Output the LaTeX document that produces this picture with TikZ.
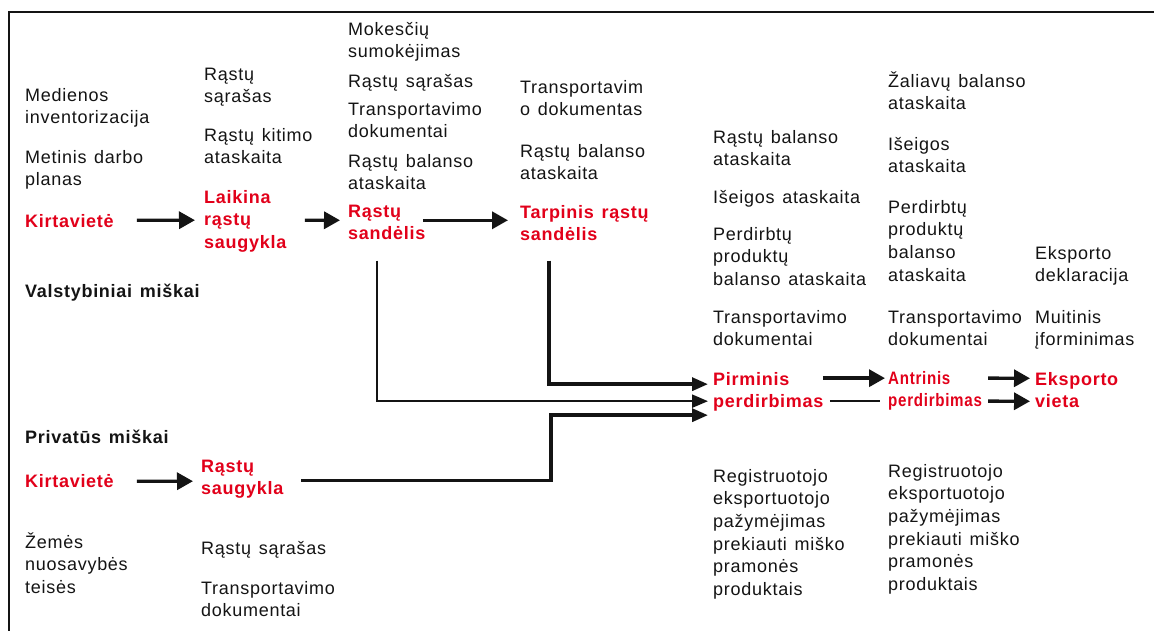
\documentclass[tikz,border=0pt]{standalone}
\usepackage{fontspec}
\setmainfont{Liberation Sans}[LetterSpace=4,WordSpace=1.35]
\newfontfamily\condfont{Liberation Sans}[FakeStretch=0.84,LetterSpace=4]
\usetikzlibrary{arrows.meta,calc}
\definecolor{myred}{RGB}{226,0,26}
\definecolor{ink}{RGB}{20,20,20}
\newcommand\firstln{\rule{0pt}{17pt}}
\begin{document}
\begin{tikzpicture}[x=1pt,y=-1pt,
  txt/.style={anchor=north west,inner sep=0pt,align=left,text=ink,font=\fontsize{18}{22.6}\selectfont},
  bold/.style={txt,font=\fontsize{18}{22.6}\selectfont\bfseries},
  rednode/.style={txt,text=myred,font=\fontsize{18}{22.6}\selectfont\bfseries},
  condred/.style={txt,text=myred,font=\fontsize{18}{22.6}\selectfont\condfont\bfseries},
  frame/.style={draw=ink,line width=2.6pt},
  arrT/.style={draw=ink,line width=3.4pt,-{Triangle[length=16pt,width=17pt]}},
  arrP/.style={draw=ink,line width=3.4pt,-{Triangle[length=16pt,width=13pt]}},
  plain/.style={draw=ink,line width=2.3pt}]
\useasboundingbox (0,0) rectangle (1154,631);
\fill[white] (0,0) rectangle (1154,631);
\draw[frame] (1154,12) -- (9,12) -- (9,631);

% column 1
\node[txt] (n1) at (25,84) {\firstln Medienos\\inventorizacija};
\node[txt] (n2) at (25,146) {\firstln Metinis darbo\\planas};
\node[rednode] (k1) at (25,210) {\firstln Kirtavietė};
\node[bold] (vm) at (25,280) {\firstln Valstybiniai miškai};
\node[bold] (pm) at (25,426) {\firstln Privatūs miškai};
\node[rednode] (k2) at (25,470) {\firstln Kirtavietė};
\node[txt] (zem) at (25,531) {\firstln Žemės\\nuosavybės\\teisės};

% column 2
\node[txt] (c2a) at (204,63) {\firstln Rąstų\\sąrašas};
\node[txt] (c2b) at (204,124) {\firstln Rąstų kitimo\\ataskaita};
\node[rednode] (laik) at (204,186) {\firstln Laikina\\rąstų\\saugykla};
\node[rednode] (rsg) at (201,455) {\firstln Rąstų\\saugykla};
\node[txt] (c2c) at (201,537) {\firstln Rąstų sąrašas};
\node[txt] (c2d) at (201,577) {\firstln Transportavimo\\dokumentai};

% column 3
\node[txt] (c3a) at (348,18) {\firstln Mokesčių\\sumokėjimas};
\node[txt] (c3b) at (348,70) {\firstln Rąstų sąrašas};
\node[txt] (c3c) at (348,98) {\firstln Transportavimo\\dokumentai};
\node[txt] (c3d) at (348,150) {\firstln Rąstų balanso\\ataskaita};
\node[rednode] (rs) at (348,200) {\firstln Rąstų\\sandėlis};

% column 4
\node[txt] (c4a) at (520,76) {\firstln Transportavim\\o dokumentas};
\node[txt] (c4b) at (520,140) {\firstln Rąstų balanso\\ataskaita};
\node[rednode] (tarp) at (520,201) {\firstln Tarpinis rąstų\\sandėlis};

% column 5
\node[txt] (c5a) at (713,126) {\firstln Rąstų balanso\\ataskaita};
\node[txt] (c5b) at (713,186) {\firstln Išeigos ataskaita};
\node[txt] (c5c) at (713,223) {\firstln Perdirbtų\\produktų\\balanso ataskaita};
\node[txt] (c5d) at (713,306) {\firstln Transportavimo\\dokumentai};
\node[rednode] (pirm) at (713,368) {\firstln Pirminis\\perdirbimas};
\node[txt] (c5e) at (713,465) {\firstln Registruotojo\\eksportuotojo\\pažymėjimas\\prekiauti miško\\pramonės\\produktais};

% column 6
\node[txt] (c6a) at (888,70) {\firstln Žaliavų balanso\\ataskaita};
\node[txt] (c6b) at (888,133) {\firstln Išeigos\\ataskaita};
\node[txt] (c6c) at (888,196) {\firstln Perdirbtų\\produktų\\balanso\\ataskaita};
\node[txt] (c6d) at (888,306) {\firstln Transportavimo\\dokumentai};
\node[condred] (antr) at (888,367) {\firstln Antrinis\\perdirbimas};
\node[txt] (c6e) at (888,460) {\firstln Registruotojo\\eksportuotojo\\pažymėjimas\\prekiauti miško\\pramonės\\produktais};

% column 7
\node[txt] (c7a) at (1035,242) {\firstln Eksporto\\deklaracija};
\node[txt] (c7b) at (1035,306) {\firstln Muitinis\\įforminimas};
\node[rednode] (eksp) at (1035,368) {\firstln Eksporto\\vieta};

% connectors
\draw[arrT] ($(k1.east)+(23,1.5)$) -- ($(laik.west)+(-9,1)$);
\draw[arrT] ($(laik.east)+(18.5,1)$) -- ($(rs.west)+(-8,0.2)$);
\draw[arrT] ($(rs.east)+(-2.6,0.2)$) -- ($(tarp.west)+(-12,-0.8)$);
\draw[arrP,line width=2.3pt] ($(rs.south west)+(29,20.4)$) |- ($(pirm.west)+(-5,11.3)$);
\draw[arrP] ($(tarp.south west)+(29,19.4)$) |- ($(pirm.west)+(-5,-5.7)$);
\draw[arrP] ($(rsg.east)+(18,3.3)$) -| ($(pirm.west)+(-162,25.3)$) -- ($(pirm.west)+(-5,25.3)$);
\draw[arrT] ($(pirm.east)+(-0.7,-11.7)$) -- ($(antr.west)+(-3,-10.7)$);
\draw[plain] ($(pirm.east)+(6.3,11.3)$) -- ($(antr.west)+(-8,12.3)$);
\draw[arrT] ($(antr.east)+(6,-10.7)$) -- ($(eksp.west)+(-5,-9.8)$);
\draw[arrT] ($(antr.east)+(6,12.3)$) -- ($(eksp.west)+(-5,13.2)$);
\draw[arrT] ($(k2.east)+(23,2.5)$) -- ($(rsg.west)+(-8,4.3)$);
\end{tikzpicture}
\end{document}
